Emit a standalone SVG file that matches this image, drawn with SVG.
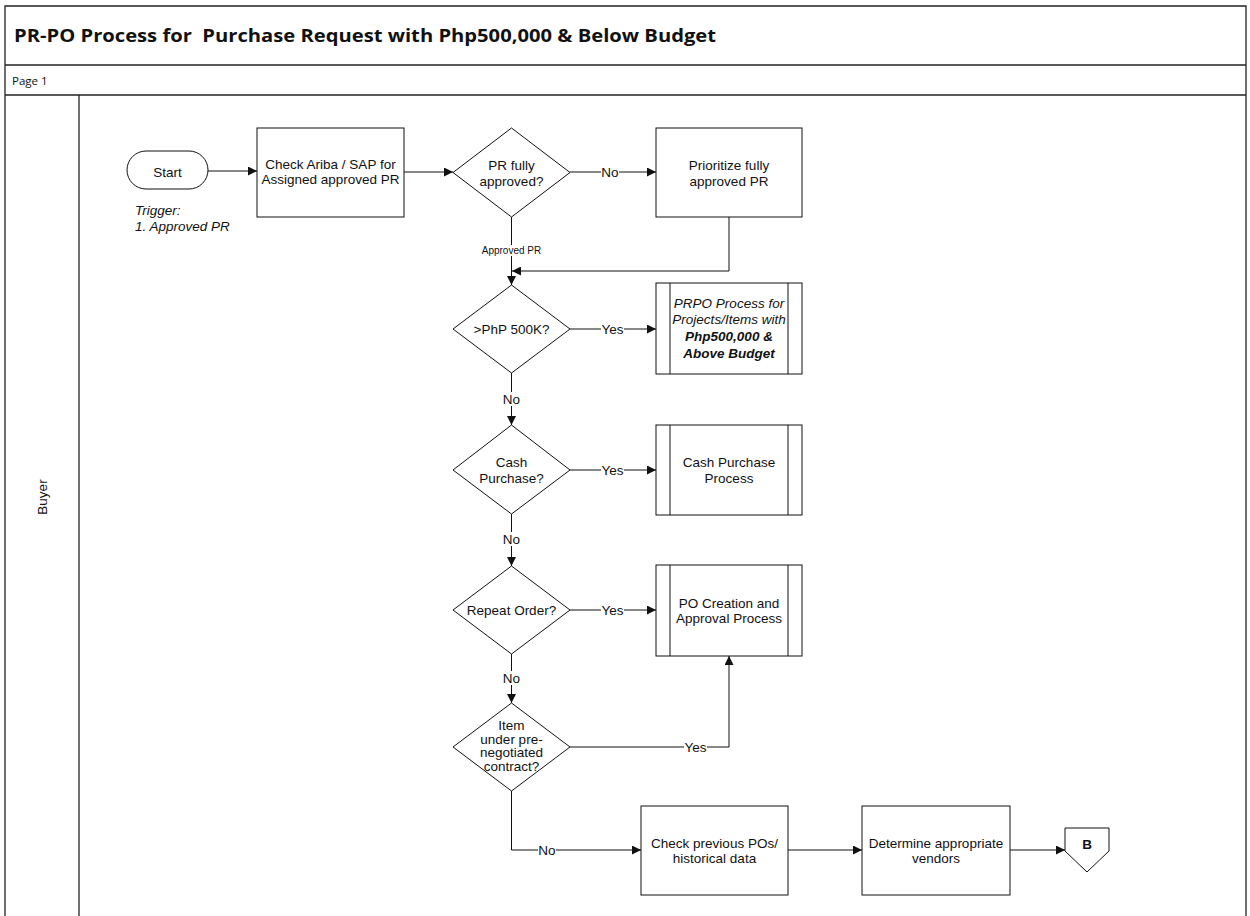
<svg xmlns="http://www.w3.org/2000/svg" width="1250" height="916" viewBox="0 0 1250 916">
  <style>
    .frame { fill: none; stroke: #222; stroke-width: 1.3; }
    .shape { fill: #fff; stroke: #111; stroke-width: 1; }
    .edge { fill: none; stroke: #111; stroke-width: 1; }
    .t { font-family: "Liberation Sans", Arial, sans-serif; font-size: 13.5px; fill: #111; text-anchor: middle; }
    .lbl { font-family: "Liberation Sans", Arial, sans-serif; font-size: 13.5px; fill: #111; text-anchor: middle; }
    .lblbg { fill: #fff; }
    .small { font-size: 10px; }
    .note { font-family: "Liberation Sans", Arial, sans-serif; font-size: 13.5px; font-style: italic; fill: #111; }
    .hdr { font-family: "Open Sans", "Liberation Sans", sans-serif; fill: #111; white-space: pre; }
  </style>
  <defs>
    <marker id="arrow" viewBox="0 0 10 10" refX="10" refY="5" markerWidth="9" markerHeight="9" markerUnits="userSpaceOnUse" orient="auto">
      <path d="M0,0 L10,5 L0,10 z" fill="#111"/>
    </marker>
  </defs>

  <rect width="1250" height="916" fill="#fff"/>

  <!-- page frame, title and lane -->
  <g id="frame">
    <path class="frame" d="M5,916 V6 H1246 V916"/>
    <line class="frame" x1="5" y1="65" x2="1246" y2="65"/>
    <line class="frame" x1="5" y1="95" x2="1246" y2="95"/>
    <line class="frame" x1="79" y1="95" x2="79" y2="916"/>
    <text class="hdr" x="14" y="42" font-size="17" font-weight="bold" textLength="702" lengthAdjust="spacingAndGlyphs">PR-PO Process for  Purchase Request with Php500,000 &amp; Below Budget</text>
    <text class="hdr" x="12" y="85" font-size="11.5">Page 1</text>
    <text class="t" transform="translate(47,497) rotate(-90)">Buyer</text>
  </g>

  <!-- connectors -->
  <g id="connectors">
    <line class="edge" x1="208" y1="171" x2="257" y2="171" marker-end="url(#arrow)"/>
    <line class="edge" x1="404" y1="172" x2="453" y2="172" marker-end="url(#arrow)"/>
    <line class="edge" x1="570" y1="172" x2="656" y2="172" marker-end="url(#arrow)"/>
    <line class="edge" x1="511.5" y1="217" x2="511.5" y2="285" marker-end="url(#arrow)"/>
    <polyline class="edge" points="729,217 729,271 512,271" marker-end="url(#arrow)"/>
    <line class="edge" x1="570" y1="329" x2="656" y2="329" marker-end="url(#arrow)"/>
    <line class="edge" x1="511.5" y1="373" x2="511.5" y2="425" marker-end="url(#arrow)"/>
    <line class="edge" x1="570" y1="470" x2="656" y2="470" marker-end="url(#arrow)"/>
    <line class="edge" x1="511.5" y1="514" x2="511.5" y2="566" marker-end="url(#arrow)"/>
    <line class="edge" x1="570" y1="610" x2="656" y2="610" marker-end="url(#arrow)"/>
    <line class="edge" x1="511.5" y1="654" x2="511.5" y2="703" marker-end="url(#arrow)"/>
    <polyline class="edge" points="570,747 729,747 729,656" marker-end="url(#arrow)"/>
    <polyline class="edge" points="511.5,791 511.5,850 641,850" marker-end="url(#arrow)"/>
    <line class="edge" x1="788" y1="850" x2="862" y2="850" marker-end="url(#arrow)"/>
    <line class="edge" x1="1010" y1="850" x2="1065" y2="850" marker-end="url(#arrow)"/>

    <!-- connector labels -->
    <rect class="lblbg" x="601" y="165" width="18" height="14"/>
    <text class="lbl" x="610" y="177">No</text>
    <rect class="lblbg" x="482" y="245" width="59" height="11"/>
    <text class="lbl small" x="511.5" y="254">Approved PR</text>
    <rect class="lblbg" x="601" y="322" width="23" height="14"/>
    <text class="lbl" x="612.5" y="334">Yes</text>
    <rect class="lblbg" x="502" y="392" width="19" height="14"/>
    <text class="lbl" x="511.5" y="404">No</text>
    <rect class="lblbg" x="601" y="463" width="23" height="14"/>
    <text class="lbl" x="612.5" y="475">Yes</text>
    <rect class="lblbg" x="502" y="532" width="19" height="14"/>
    <text class="lbl" x="511.5" y="544">No</text>
    <rect class="lblbg" x="601" y="603" width="23" height="14"/>
    <text class="lbl" x="612.5" y="615">Yes</text>
    <rect class="lblbg" x="502" y="671" width="19" height="14"/>
    <text class="lbl" x="511.5" y="683">No</text>
    <rect class="lblbg" x="684" y="740" width="23" height="14"/>
    <text class="lbl" x="695.5" y="752">Yes</text>
    <rect class="lblbg" x="538" y="843" width="18" height="14"/>
    <text class="lbl" x="547" y="855">No</text>
  </g>

  <g id="start">
    <rect class="shape" x="127" y="151" width="81" height="38" rx="19" ry="19"/>
    <text class="t" x="167.5" y="177">Start</text>
    <text class="note" x="135" y="215">Trigger:</text>
    <text class="note" x="135" y="231">1. Approved PR</text>
  </g>

  <g id="check-ariba">
    <rect class="shape" x="257" y="128" width="147" height="89"/>
    <text class="t" x="330.5" y="169">Check Ariba / SAP for</text>
    <text class="t" x="330.5" y="184">Assigned approved PR</text>
  </g>

  <g id="pr-fully-approved">
    <polygon class="shape" points="511.5,128 570,172.5 511.5,217 453,172.5"/>
    <text class="t" x="511.5" y="170">PR fully</text>
    <text class="t" x="511.5" y="186">approved?</text>
  </g>

  <g id="prioritize">
    <rect class="shape" x="656" y="128" width="146" height="89"/>
    <text class="t" x="729" y="170">Prioritize fully</text>
    <text class="t" x="729" y="186">approved PR</text>
  </g>

  <g id="over-500k">
    <polygon class="shape" points="511.5,285 570,329 511.5,373 453,329"/>
    <text class="t" x="511.5" y="334">&gt;PhP 500K?</text>
  </g>

  <g id="prpo-above">
    <rect class="shape" x="656" y="283" width="146" height="91"/>
    <line class="edge" x1="670" y1="283" x2="670" y2="374"/>
    <line class="edge" x1="788" y1="283" x2="788" y2="374"/>
    <text class="t" x="729" y="308" font-style="italic">PRPO Process for</text>
    <text class="t" x="729" y="324" font-style="italic">Projects/Items with</text>
    <text class="t" x="729" y="341" font-style="italic" font-weight="bold">Php500,000 &amp;</text>
    <text class="t" x="729" y="358" font-style="italic" font-weight="bold">Above Budget</text>
  </g>

  <g id="cash-purchase-q">
    <polygon class="shape" points="511.5,425 570,470 511.5,514 453,470"/>
    <text class="t" x="511.5" y="467">Cash</text>
    <text class="t" x="511.5" y="483">Purchase?</text>
  </g>

  <g id="cash-purchase-process">
    <rect class="shape" x="656" y="425" width="146" height="90"/>
    <line class="edge" x1="670" y1="425" x2="670" y2="515"/>
    <line class="edge" x1="788" y1="425" x2="788" y2="515"/>
    <text class="t" x="729" y="467">Cash Purchase</text>
    <text class="t" x="729" y="483">Process</text>
  </g>

  <g id="repeat-order">
    <polygon class="shape" points="511.5,566 570,610 511.5,654 453,610"/>
    <text class="t" x="511.5" y="615">Repeat Order?</text>
  </g>

  <g id="po-creation">
    <rect class="shape" x="656" y="565" width="146" height="91"/>
    <line class="edge" x1="670" y1="565" x2="670" y2="656"/>
    <line class="edge" x1="788" y1="565" x2="788" y2="656"/>
    <text class="t" x="729" y="608">PO Creation and</text>
    <text class="t" x="729" y="623">Approval Process</text>
  </g>

  <g id="pre-negotiated">
    <polygon class="shape" points="511.5,703 570,747 511.5,791 453,747"/>
    <text class="t" x="511.5" y="730" font-size="10.5">Item</text>
    <text class="t" x="511.5" y="744" font-size="10.5">under pre-</text>
    <text class="t" x="511.5" y="757" font-size="10.5">negotiated</text>
    <text class="t" x="511.5" y="771" font-size="10.5">contract?</text>
  </g>

  <g id="check-previous">
    <rect class="shape" x="641" y="806" width="147" height="89"/>
    <text class="t" x="714.5" y="848">Check previous POs/</text>
    <text class="t" x="714.5" y="863">historical data</text>
  </g>

  <g id="determine-vendors">
    <rect class="shape" x="862" y="806" width="148" height="89"/>
    <text class="t" x="936" y="848">Determine appropriate</text>
    <text class="t" x="936" y="863">vendors</text>
  </g>

  <g id="offpage-b">
    <polygon class="shape" points="1065,828 1109,828 1109,851 1087,872 1065,851"/>
    <text class="t" x="1087" y="849" font-size="12" font-weight="bold">B</text>
  </g>
</svg>
